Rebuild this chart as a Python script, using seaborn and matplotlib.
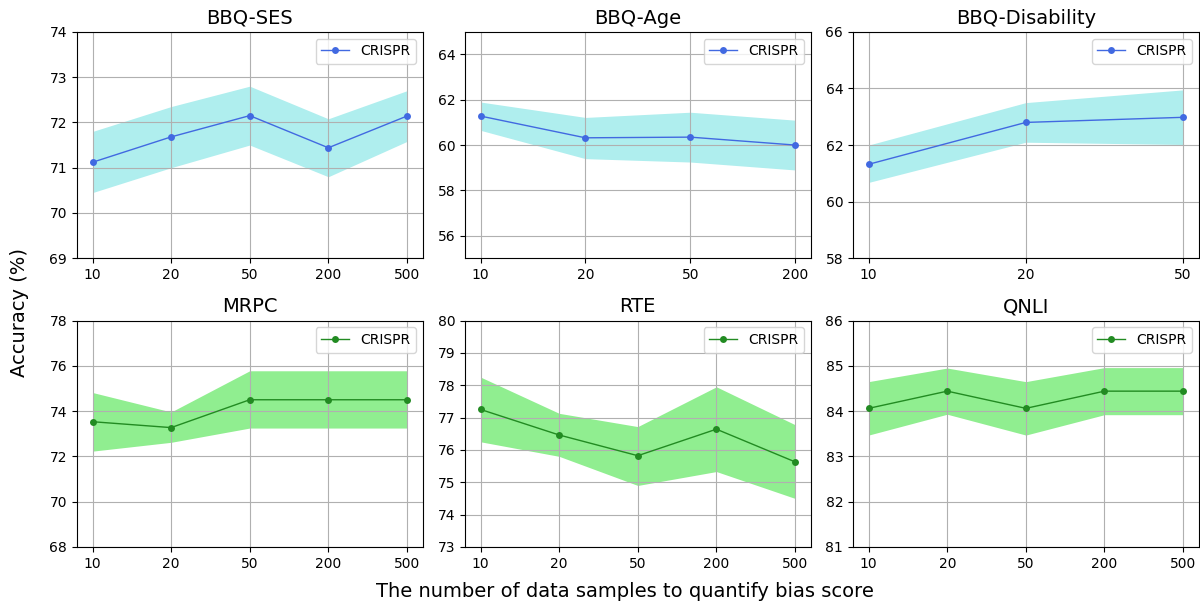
#!/usr/bin/env python3

import matplotlib
matplotlib.use("Agg")
import matplotlib.pyplot as plt
import seaborn as sns
import pandas as pd

# ---- data ----
samples_5 = ["10", "20", "50", "200", "500"]
samples_4 = ["10", "20", "50", "200"]
samples_3 = ["10", "20", "50"]

ses_mean = [71.12, 71.68, 72.15, 71.44, 72.14]
ses_low = [70.45, 71.00, 71.50, 70.80, 71.58]
ses_high = [71.80, 72.35, 72.80, 72.08, 72.70]

age_mean = [61.28, 60.32, 60.35, 60.00]
age_low = [60.65, 59.40, 59.25, 58.90]
age_high = [61.90, 61.22, 61.45, 61.10]

dis_mean = [61.32, 62.80, 62.98]
dis_low = [60.68, 62.10, 62.02]
dis_high = [62.00, 63.50, 63.95]

mrpc_mean = [73.53, 73.27, 74.50, 74.50, 74.50]
mrpc_low = [72.23, 72.62, 73.25, 73.25, 73.25]
mrpc_high = [74.82, 73.96, 75.78, 75.78, 75.78]

rte_mean = [77.25, 76.46, 75.82, 76.64, 75.63]
rte_low = [76.25, 75.80, 74.90, 75.33, 74.50]
rte_high = [78.25, 77.13, 76.72, 77.95, 76.78]

qnli_mean = [84.06, 84.44, 84.06, 84.44, 84.44]
qnli_low = [83.47, 83.93, 83.47, 83.92, 83.92]
qnli_high = [84.65, 84.95, 84.65, 84.96, 84.96]

panels = [
    ("BBQ-SES", samples_5, ses_mean, ses_low, ses_high, (69, 74), 1, "bbq"),
    ("BBQ-Age", samples_4, age_mean, age_low, age_high, (55, 65), 2, "bbq"),
    ("BBQ-Disability", samples_3, dis_mean, dis_low, dis_high, (58, 66), 2, "bbq"),
    ("MRPC", samples_5, mrpc_mean, mrpc_low, mrpc_high, (68, 78), 2, "glue"),
    ("RTE", samples_5, rte_mean, rte_low, rte_high, (73, 80), 1, "glue"),
    ("QNLI", samples_5, qnli_mean, qnli_low, qnli_high, (81, 86), 1, "glue"),
]

colors = {
    "bbq": ("royalblue", "paleturquoise"),
    "glue": ("forestgreen", "lightgreen"),
}


def main():
    fig, axes = plt.subplots(2, 3, figsize=(12, 6.01), dpi=100)
    plt.subplots_adjust(left=0.064, right=0.999, top=0.947, bottom=0.09,
                        wspace=0.122, hspace=0.275)

    for ax, (title, xs, mean, low, high, ylim, step, kind) in zip(axes.flat, panels):
        line_color, band_color = colors[kind]
        df = pd.DataFrame({"samples": xs, "acc": mean})
        ax.fill_between(xs, low, high, color=band_color, linewidth=0)
        sns.lineplot(data=df, x="samples", y="acc", ax=ax, color=line_color,
                     marker="o", markersize=5, markeredgewidth=0,
                     linewidth=1, label="CRISPR", sort=False)
        ax.set_ylim(*ylim)
        first_tick = ylim[0] + ylim[0] % step
        ax.set_yticks(range(first_tick, ylim[1] + 1, step))
        ax.set_title(title, fontsize=14)
        ax.set_xlabel("")
        ax.set_ylabel("")
        ax.grid(True, color="#b0b0b0", linewidth=0.8)
        ax.tick_params(labelsize=10)
        ax.legend(loc="upper right", fontsize=10)

    fig.supxlabel("The number of data samples to quantify bias score",
                  fontsize=14, x=0.521, y=0.0)
    fig.supylabel("Accuracy (%)", fontsize=14, x=0.008, y=0.48)

    fig.savefig("out.png", dpi=100)
    plt.close(fig)


if __name__ == "__main__":
    main()
